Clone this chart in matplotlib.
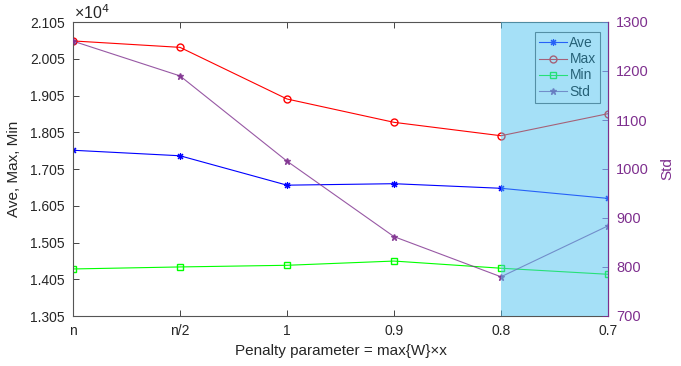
import numpy as np
import matplotlib
matplotlib.use('Agg')
import matplotlib.pyplot as plt

plt.rcParams['font.family'] = ['Liberation Sans', 'DejaVu Sans']

# data
x_labels = ['n', 'n/2', '1', '0.9', '0.8', '0.7']
ave = [17560, 17410, 16610, 16650, 16525, 16250]
vmax = [20535, 20360, 18955, 18320, 17955, 18555]
vmin = [14330, 14385, 14430, 14545, 14350, 14185]
std = [1261, 1190, 1016, 862, 780, 884]
left_ticks = [13050, 14050, 15050, 16050, 17050, 18050, 19050, 20050, 21050]
right_ticks = [700, 800, 900, 1000, 1100, 1200, 1300]

purple = '#7e2f8e'
txt = '#262626'
x = np.arange(len(x_labels))

fig = plt.figure(figsize=(6.81, 3.66), dpi=100)
ax = fig.add_axes([73/681, 1-316/366, (608-73)/681, (316-22)/366])
ax2 = ax.twinx()

l1, = ax.plot(x, ave, color='#0000ff', lw=0.8, marker=(8, 2, 0), ms=5, mew=0.8, label='Ave')
l2, = ax.plot(x, vmax, color='#ff0000', lw=0.8, marker='o', ms=5, mfc='none', label='Max')
l3, = ax.plot(x, vmin, color='#00ff00', lw=0.8, marker='s', ms=4, mfc='none', label='Min')
l4, = ax2.plot(x, std, color=purple, lw=0.8, marker='*', ms=5, alpha=0.8, label='Std')

ax.set_xlim(0, 5)
ax.set_ylim(13050, 21050)
ax.set_yticks(left_ticks)
ax.set_yticklabels(['%.3f' % (v / 1e4) for v in left_ticks])
ax.set_xticks(x)
ax.set_xticklabels(x_labels)
ax2.set_ylim(700, 1300)
ax2.set_yticks(right_ticks)

ax.tick_params(axis='both', direction='in', length=4, width=0.6, colors=txt,
               labelsize=10, top=True, pad=6)
ax.tick_params(axis='y', right=False)
ax2.tick_params(axis='y', direction='in', length=4, width=0.6, colors=purple,
                labelsize=10.5, pad=6)
for s in ['left', 'bottom', 'top']:
    ax.spines[s].set_color('#555555')
    ax.spines[s].set_linewidth(0.8)
ax2.spines['right'].set_color(purple)
ax2.spines['right'].set_linewidth(0.8)
for s in ['left', 'bottom', 'top']:
    ax2.spines[s].set_visible(False)

ax.set_xlabel('Penalty parameter = max{W}×x', fontsize=11, color=txt, labelpad=4)
ax.set_ylabel('Ave, Max, Min', fontsize=11, color=txt, labelpad=6)
ax2.set_ylabel('Std', fontsize=11, color=purple, labelpad=8)
fig.text(74/681, 1-22/366, '×10$^4$', fontsize=11.5, color=txt,
         ha='left', va='bottom')

leg = ax2.legend(handles=[l1, l2, l3, l4], loc='upper right', fontsize=10,
                 bbox_to_anchor=(0.99, 0.975), frameon=True, fancybox=False,
                 handlelength=2.0, handletextpad=0.2, borderpad=0.3,
                 labelspacing=0.15, borderaxespad=0.2)
leg.get_frame().set_edgecolor('#333333')
leg.get_frame().set_linewidth(0.8)
leg.set_zorder(5)

ax2.axvspan(4, 5, color='#4dc3f0', alpha=0.5, lw=0, zorder=8)

fig.savefig('out.png', dpi=100)
